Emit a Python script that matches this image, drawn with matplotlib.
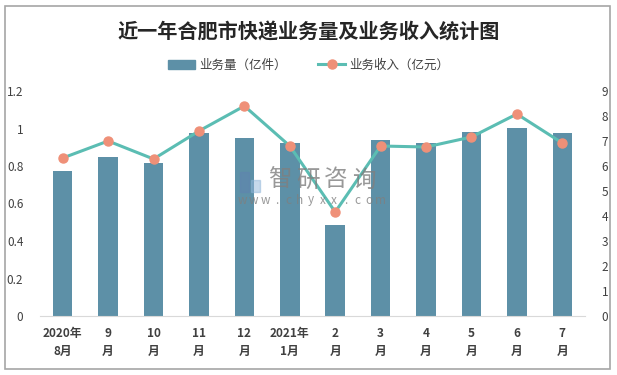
import matplotlib
matplotlib.use("Agg")
import matplotlib.pyplot as plt
from matplotlib.patches import Rectangle
from matplotlib.lines import Line2D

plt.rcParams['font.family'] = ['Noto Sans CJK SC', 'DejaVu Sans']

categories = ["2020年\n8月", "9\n月", "10\n月", "11\n月", "12\n月", "2021年\n1月",
              "2\n月", "3\n月", "4\n月", "5\n月", "6\n月", "7\n月"]
volume = [0.773, 0.846, 0.814, 0.974, 0.948, 0.921, 0.484, 0.937, 0.921, 0.983, 1.001, 0.974]
revenue = [6.32, 7.00, 6.28, 7.40, 8.40, 6.80, 4.16, 6.80, 6.76, 7.16, 8.08, 6.92]
left_ticks = [0, 0.2, 0.4, 0.6, 0.8, 1, 1.2]
left_labels = ["0", "0.2", "0.4", "0.6", "0.8", "1", "1.2"]
right_ticks = list(range(0, 10))

bar_color = "#5d90a7"
line_color = "#5bbdb3"
marker_color = "#ef9078"
text_color = "#404040"

W, H = 617, 375
fig = plt.figure(figsize=(W / 100, H / 100), dpi=100)
fig.patch.set_facecolor("white")

# outer border
fig.add_artist(Rectangle((5 / W, 1 - 369 / H), 605 / W, 363 / H, transform=fig.transFigure,
                         fill=False, edgecolor="#a6a6a6", linewidth=1.2))

ax = fig.add_axes([40 / W, 1 - 316 / H, 545 / W, 225 / H])
x = list(range(len(categories)))
ax.bar(x, volume, width=0.43, color=bar_color, zorder=2)
ax.set_xlim(-0.5, len(categories) - 0.5)
ax.set_ylim(0, 1.2)
ax.set_yticks(left_ticks)
ax.set_yticklabels(left_labels)
ax.set_xticks(x)
ax.set_xticklabels(categories, fontweight="bold", linespacing=1.5)
for s in ["top", "right", "left"]:
    ax.spines[s].set_visible(False)
ax.spines["bottom"].set_color("#d9d9d9")
ax.tick_params(axis="both", length=0, labelsize=8.5, colors=text_color)
ax.tick_params(axis="x", pad=8)
ax.tick_params(axis="y", pad=12)

ax2 = ax.twinx()
ax2.plot(x, revenue, color=line_color, linewidth=2.2, marker="o", markersize=6.5,
         markerfacecolor=marker_color, markeredgecolor=marker_color, zorder=4)
ax2.set_ylim(0, 9)
ax2.set_yticks(right_ticks)
for s in ["top", "right", "left", "bottom"]:
    ax2.spines[s].set_visible(False)
ax2.tick_params(axis="y", length=0, labelsize=8.5, colors=text_color, pad=12)

# watermark
wm_chars = "智研咨询"
for i, ch in enumerate(wm_chars):
    fig.text((280 + i * 28) / W, 1 - 180 / H, ch, fontsize=17, color="#7f7f7f", alpha=0.8,
             ha="center", va="center", zorder=3)
wm_url = "www.chyxx.com"
for i, ch in enumerate(wm_url):
    fig.text((242 + i * 11.5) / W, 1 - 200 / H, ch, fontsize=8.5, color="#7f7f7f",
             alpha=0.8, ha="center", va="center", zorder=3)
fig.add_artist(Rectangle((240 / W, 1 - 192 / H), 9 / W, 20 / H, transform=fig.transFigure,
                         color="#5f84b0", alpha=0.5, zorder=3))
fig.add_artist(Rectangle((251 / W, 1 - 192 / H), 9 / W, 12 / H, transform=fig.transFigure,
                         color="#8fb5d9", alpha=0.5, zorder=3))

# title
fig.text(0.5, 1 - 32 / H, "近一年合肥市快递业务量及业务收入统计图", fontsize=14.5,
         fontweight="bold", color="#262626", ha="center", va="center")

# legend
handles = [Rectangle((0, 0), 1, 1, color=bar_color),
           Line2D([0], [0], color=line_color, linewidth=2.2, marker="o", markersize=6.5,
                  markerfacecolor=marker_color, markeredgecolor=marker_color)]
fig.legend(handles, ["业务量（亿件）", "业务收入（亿元）"], loc="center",
           bbox_to_anchor=(0.5, 1 - 65 / H), ncol=2, frameon=False, fontsize=9,
           labelcolor=text_color, handlelength=2.2, handletextpad=0.3, columnspacing=2.5)

fig.savefig("out.png", dpi=100)
